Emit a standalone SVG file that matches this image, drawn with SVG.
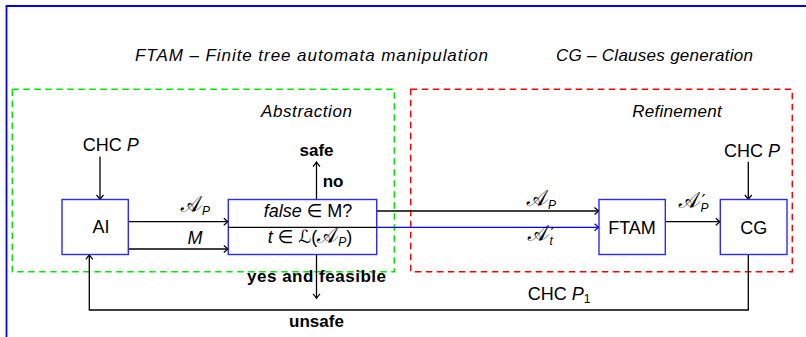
<svg xmlns="http://www.w3.org/2000/svg" width="806" height="337" viewBox="0 0 806 337">
<defs>
<marker id="ah" markerUnits="userSpaceOnUse" markerWidth="12" markerHeight="12" viewBox="-6 -6 12 12" refX="0" refY="0" orient="auto">
<path d="M -4.5 -3.5 Q -1.5 -0.8 0 0 Q -1.5 0.8 -4.5 3.5" fill="none" stroke="#000" stroke-width="1.2"/>
</marker>
<marker id="ahb" markerUnits="userSpaceOnUse" markerWidth="12" markerHeight="12" viewBox="-6 -6 12 12" refX="0" refY="0" orient="auto">
<path d="M -4.5 -3.5 Q -1.5 -0.8 0 0 Q -1.5 0.8 -4.5 3.5" fill="none" stroke="#0000ff" stroke-width="1.2"/>
</marker>
</defs>
<style>
text{font-family:"Liberation Sans","DejaVu Sans",sans-serif;fill:#000}
.it{font-style:italic}
.t17{font-size:17px}
.t18{font-size:18px}
.b{font-weight:bold;font-size:17px}
.box{fill:#fff;stroke:#2b2bff;stroke-width:1.4}
.ln{fill:none;stroke:#000;stroke-width:1.3}
.arr{fill:none;stroke:#000;stroke-width:1.3;marker-end:url(#ah)}
.cal{font-family:"DejaVu Sans","Noto Sans Math",serif;font-style:normal;font-size:21px}
.sub{font-size:12px}
.pr{font-size:18px;font-family:"DejaVu Sans",sans-serif;font-style:normal}
</style>
<rect width="806" height="337" fill="#fff"/>
<path d="M 6.5 337 L 6.5 6 L 806 6" fill="none" stroke="#0000ff" stroke-width="1.8"/>

<text class="it t17" x="135" y="60.5" textLength="353">FTAM – Finite tree automata manipulation</text>
<text class="it t17" x="556" y="60.5" textLength="197">CG – Clauses generation</text>

<g id="abstraction">
<rect x="12.3" y="89.3" width="382" height="182.4" fill="none" stroke="#00e600" stroke-width="1.5" stroke-dasharray="6.5 4.5"/>
<text class="it t17" x="261" y="116.7" textLength="91">Abstraction</text>
</g>
<g id="refinement">
<rect x="410.7" y="89.3" width="381.6" height="182.4" fill="none" stroke="#ff0000" stroke-width="1.5" stroke-dasharray="6.5 4.5"/>
<text class="it t17" x="632.3" y="116.7" textLength="89.4">Refinement</text>
</g>

<g id="connectors">
<line class="arr" x1="100" y1="156.5" x2="100" y2="199.5"/>
<line class="arr" x1="748.3" y1="161.7" x2="748.3" y2="199.5"/>
<line class="arr" x1="128.3" y1="221.7" x2="228.3" y2="221.7"/>
<line class="arr" x1="128.3" y1="249" x2="228.3" y2="249"/>
<line class="arr" x1="316.5" y1="199.5" x2="316.5" y2="162"/>
<line class="arr" x1="316.5" y1="254.5" x2="316.5" y2="298.3"/>
<line class="arr" x1="376.7" y1="211" x2="599" y2="211"/>
<line x1="376.7" y1="227.3" x2="599" y2="227.3" fill="none" stroke="#0000ff" stroke-width="1.3" marker-end="url(#ahb)"/>
<line class="arr" x1="665.3" y1="221.7" x2="720.3" y2="221.7"/>
<path class="arr" d="M 748.3 254.5 L 748.3 310 L 89.3 310 L 89.3 254.8"/>
</g>

<g id="labels">
<text class="t18" x="82.7" y="150.7">CHC <tspan class="it">P</tspan></text>
<text class="t18" x="724" y="156.7">CHC <tspan class="it">P</tspan></text>
<text class="b" x="316.5" y="156" text-anchor="middle">safe</text>
<text class="b" x="322.7" y="187.3">no</text>
<text class="b" x="247" y="281.7" textLength="139">yes and feasible</text>
<text class="b" x="316.5" y="326.5" text-anchor="middle">unsafe</text>
<text class="t18" x="527.7" y="300">CHC <tspan class="it">P</tspan><tspan class="sub" dy="3">1</tspan></text>
<text x="181" y="212"><tspan class="cal">𝒜</tspan><tspan class="it sub" dy="3">P</tspan></text>
<text class="it t18" x="195" y="244.3" text-anchor="middle">M</text>
<text x="527" y="206"><tspan class="cal">𝒜</tspan><tspan class="it sub" dy="3">P</tspan></text>
<text x="528" y="241"><tspan class="cal">𝒜</tspan><tspan class="pr" dx="1.5" dy="-1">′</tspan><tspan class="it sub" dx="-5" dy="5">t</tspan></text>
<text x="679" y="208"><tspan class="cal">𝒜</tspan><tspan class="pr" dx="1.5" dy="-1">′</tspan><tspan class="it sub" dx="-5" dy="5">P</tspan></text>
</g>

<g id="AI">
<rect class="box" x="62" y="199.5" width="66.3" height="55"/>
<text class="t18" x="101" y="233.3" text-anchor="middle">AI</text>
</g>
<g id="check">
<rect class="box" x="228.3" y="199.5" width="148.4" height="55"/>
<line class="ln" x1="228.3" y1="227.3" x2="376.7" y2="227.3"/>
<text class="t18" x="308" y="216.7" text-anchor="middle"><tspan class="it">false</tspan> ∈ M?</text>
<text class="t18" x="310" y="243.3" text-anchor="middle"><tspan class="it">t</tspan> ∈ <tspan font-family="DejaVu Sans">ℒ</tspan>(<tspan class="cal">𝒜</tspan><tspan class="it sub" dy="3">P</tspan><tspan dy="-3">)</tspan></text>
</g>
<g id="FTAM">
<rect class="box" x="599" y="199.5" width="66.3" height="55"/>
<text x="632" y="234" font-size="18" text-anchor="middle">FTAM</text>
</g>
<g id="CG">
<rect class="box" x="720.3" y="199.5" width="66.7" height="55"/>
<text x="753.7" y="234" font-size="18" text-anchor="middle">CG</text>
</g>
</svg>
